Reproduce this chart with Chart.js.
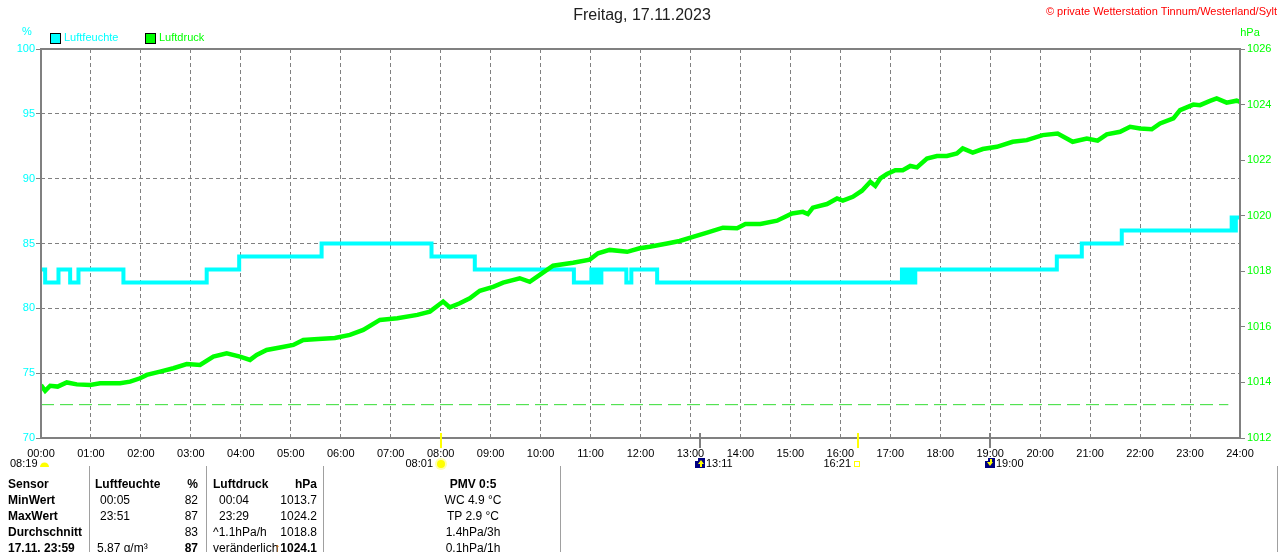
<!DOCTYPE html>
<html lang="de">
<head>
<meta charset="utf-8">
<title>Wetterstation Tinnum - Freitag, 17.11.2023</title>
<script src="https://cdn.jsdelivr.net/npm/chart.js@4.4.0/dist/chart.umd.min.js"></script>
<style>
  html, body { margin: 0; padding: 0; background: #fff; }
  #wrap { position: relative; width: 1280px; height: 552px; overflow: hidden;
          font-family: "Liberation Sans", Arial, sans-serif; }
  #chart { position: absolute; left: 0; top: 0; }
  #tabelle { position: absolute; left: 0; top: 466px; width: 1280px; height: 86px;
             font-size: 12px; color: #000; }
  .t { position: absolute; white-space: nowrap; line-height: 14px; }
  .b { font-weight: bold; }
  .r1 { right: 1082px; }
  .r2 { right: 963px; }
  .m { left: 473px; transform: translateX(-50%); }
  .vl { position: absolute; top: 0; width: 1px; height: 86px; background: #a0a0a0; }
  .pfeil { color: #c86400; font-weight: bold; }
</style>
</head>
<body>
<div id="wrap">
  <canvas id="chart" width="1280" height="552"></canvas>
  <div id="tabelle">
    <div class="vl" style="left:89px"></div>
    <div class="vl" style="left:206px"></div>
    <div class="vl" style="left:323px"></div>
    <div class="vl" style="left:560px"></div>
    <div class="vl" style="left:1277px"></div>

    <div class="t b" style="left:8px;top:11px">Sensor</div>
    <div class="t b" style="left:8px;top:27px">MinWert</div>
    <div class="t b" style="left:8px;top:43px">MaxWert</div>
    <div class="t b" style="left:8px;top:59px">Durchschnitt</div>
    <div class="t b" style="left:8px;top:75px">17.11. 23:59</div>

    <div class="t b" style="left:95px;top:11px">Luftfeuchte</div>
    <div class="t" style="left:100px;top:27px">00:05</div>
    <div class="t" style="left:100px;top:43px">23:51</div>
    <div class="t" style="left:97px;top:75px">5.87 g/m³</div>
    <div class="t b r1" style="top:11px">%</div>
    <div class="t r1" style="top:27px">82</div>
    <div class="t r1" style="top:43px">87</div>
    <div class="t r1" style="top:59px">83</div>
    <div class="t b r1" style="top:75px">87</div>

    <div class="t b" style="left:213px;top:11px">Luftdruck</div>
    <div class="t" style="left:219px;top:27px">00:04</div>
    <div class="t" style="left:219px;top:43px">23:29</div>
    <div class="t" style="left:213px;top:59px">^1.1hPa/h</div>
    <div class="t" style="left:213px;top:75px">veränderlich</div>
    <div class="t b r2" style="top:11px">hPa</div>
    <div class="t r2" style="top:27px">1013.7</div>
    <div class="t r2" style="top:43px">1024.2</div>
    <div class="t r2" style="top:59px">1018.8</div>
    <div class="t b r2" style="top:75px"><span class="pfeil">↑</span>1024.1</div>

    <div class="t b m" style="top:11px">PMV 0:5</div>
    <div class="t m" style="top:27px">WC 4.9 °C</div>
    <div class="t m" style="top:43px">TP 2.9 °C</div>
    <div class="t m" style="top:59px">1.4hPa/3h</div>
    <div class="t m" style="top:75px">0.1hPa/1h</div>
  </div>
</div>
<script>
// Zeitachse in Minuten seit Mitternacht
const stundenTicks = [0, 60, 120, 180, 240, 300, 360, 420, 480, 540, 600, 660, 720,
  780, 840, 900, 960, 1020, 1080, 1140, 1200, 1260, 1320, 1380, 1440];
const stundenLabels = ['00:00', '01:00', '02:00', '03:00', '04:00', '05:00', '06:00',
  '07:00', '08:00', '09:00', '10:00', '11:00', '12:00', '13:00', '14:00', '15:00',
  '16:00', '17:00', '18:00', '19:00', '20:00', '21:00', '22:00', '23:00', '24:00'];
const feuchteTicks = [70, 75, 80, 85, 90, 95, 100];
const druckTicks = [1012, 1014, 1016, 1018, 1020, 1022, 1024, 1026];

// Luftfeuchte (%), Wechselzeitpunkte
const feuchteZeit = [0, 5, 21, 35, 45, 99, 199, 238, 337, 469, 521, 640, 661, 663, 665,
  667, 669, 671, 673, 703, 709, 740, 1034, 1036, 1040, 1042, 1046, 1048, 1050, 1220,
  1250, 1298, 1430, 1433, 1435, 1440];
const feuchteWert = [83, 82, 83, 82, 83, 82, 83, 84, 85, 84, 83, 82, 83, 82, 83,
  82, 83, 82, 83, 82, 83, 82, 83, 82, 83, 82, 83, 82, 83, 84,
  85, 86, 87, 86, 87, 87];

// Luftdruck (hPa)
const druckZeit = [0, 5, 11, 20, 31, 43, 59, 71, 95, 107, 119, 127, 143, 159, 175, 191,
  207, 223, 239, 251, 259, 271, 287, 303, 315, 333, 353, 371, 387, 407, 428, 452, 467,
  483, 491, 503, 515, 527, 543, 555, 575, 587, 599, 615, 639, 659, 669, 683, 704, 719,
  731, 752, 767, 783, 800, 819, 836, 846, 864, 884, 902, 915, 921, 927, 944, 956, 963,
  975, 986, 996, 1002, 1008, 1016, 1026, 1035, 1044, 1052, 1064, 1076, 1088, 1100,
  1107, 1119, 1131, 1148, 1167, 1184, 1203, 1221, 1239, 1256, 1269, 1280, 1296, 1308,
  1320, 1334, 1344, 1360, 1368, 1384, 1392, 1404, 1412, 1424, 1436, 1440];
const druckWert = [1013.90, 1013.70, 1013.88, 1013.85, 1014.00, 1013.93, 1013.91,
  1013.97, 1013.97, 1014.03, 1014.15, 1014.27, 1014.39, 1014.51, 1014.66, 1014.63,
  1014.93, 1015.05, 1014.93, 1014.81, 1014.99, 1015.17, 1015.26, 1015.35, 1015.53,
  1015.56, 1015.60, 1015.71, 1015.89, 1016.25, 1016.31, 1016.43, 1016.55,
  1016.91, 1016.70, 1016.85, 1017.03, 1017.30, 1017.44, 1017.59, 1017.75, 1017.62,
  1017.87, 1018.20, 1018.31, 1018.42, 1018.65, 1018.77, 1018.70, 1018.83,
  1018.88, 1019.00, 1019.09, 1019.24, 1019.39, 1019.57, 1019.55, 1019.70, 1019.70,
  1019.82, 1020.08, 1020.14, 1020.06, 1020.29, 1020.42, 1020.62, 1020.54,
  1020.68, 1020.90, 1021.22, 1021.07, 1021.34, 1021.50, 1021.64, 1021.64, 1021.79,
  1021.74, 1022.06, 1022.15, 1022.15, 1022.24, 1022.42, 1022.27, 1022.40, 1022.48,
  1022.66, 1022.72, 1022.90, 1022.96, 1022.66, 1022.78, 1022.70, 1022.93, 1023.02,
  1023.20, 1023.14, 1023.11, 1023.32, 1023.50, 1023.80, 1024.00, 1023.98, 1024.13,
  1024.22, 1024.07, 1024.14, 1024.10];

// Referenzlinie Normaldruck
const normalZeit = [0, 1426];
const normalWert = [1013.2, 1013.2];

// Sonne / Mond
const ereignisZeit = [481, 791, 981, 1140];
const ereignisText = ['08:01', '13:11', '16:21', '19:00'];
const ereignisArt = ['sonneAuf', 'mondAuf', 'sonneUnter', 'mondUnter'];
const tageslaenge = '08:19';

const FONT = '"Liberation Sans", Arial, sans-serif';
Chart.defaults.font.family = FONT;
Chart.defaults.font.size = 11;

function punkte(zeit, wert) {
    return zeit.map((t, i) => ({ x: t, y: wert[i] }));
}

function sonne(ctx, x, y) {
    ctx.fillStyle = 'rgba(255,255,120,0.6)';
    ctx.beginPath(); ctx.arc(x, y, 6, 0, Math.PI * 2); ctx.fill();
    ctx.fillStyle = '#ffff00';
    ctx.beginPath(); ctx.arc(x, y, 4, 0, Math.PI * 2); ctx.fill();
}

function mond(ctx, x, y, hoch) {
    ctx.fillStyle = '#000080';
    ctx.fillRect(x - 5, y - 5, 10, 10);
    ctx.fillStyle = '#ffffff';
    ctx.fillRect(x - 5, y - 5, 3, 3);
    ctx.fillStyle = '#ffff00';
    ctx.beginPath();
    if (hoch) {
        ctx.moveTo(x + 1, y - 3); ctx.lineTo(x + 4, y + 1); ctx.lineTo(x - 2, y + 1);
    } else {
        ctx.moveTo(x, y + 3); ctx.lineTo(x + 3, y - 1); ctx.lineTo(x - 3, y - 1);
    }
    ctx.fill();
    ctx.fillRect(x, hoch ? y : y - 4, 2, 4);
}

const wetterPlugin = {
    id: 'wetter',
    afterDatasetsDraw(chart) {
        const { ctx, chartArea: a } = chart;
        ctx.save();
        ctx.strokeStyle = '#808080';
        ctx.lineWidth = 2;
        ctx.strokeRect(a.left, a.top, a.right - a.left, a.bottom - a.top);
        ctx.restore();
    },
    afterDraw(chart) {
        const { ctx } = chart;
        const xs = chart.scales.x;
        ctx.save();
        ctx.textBaseline = 'middle';

        // Titel
        ctx.font = '16px ' + FONT;
        ctx.fillStyle = '#202020';
        ctx.textAlign = 'center';
        ctx.fillText('Freitag, 17.11.2023', 642, 16);

        ctx.font = '11px ' + FONT;
        ctx.fillStyle = '#ff0000';
        ctx.textAlign = 'right';
        ctx.fillText('\u00a9 private Wetterstation Tinnum/Westerland/Sylt', 1277, 12);

        // Einheiten
        ctx.textAlign = 'center';
        ctx.fillStyle = '#00ffff';
        ctx.fillText('%', 27, 32);
        ctx.fillStyle = '#00ff00';
        ctx.fillText('hPa', 1250, 33);

        // Legende
        ctx.textAlign = 'left';
        ctx.lineWidth = 1;
        ctx.strokeStyle = '#000';
        ctx.fillStyle = '#00ffff';
        ctx.fillRect(50.5, 33.5, 10, 10); ctx.strokeRect(50.5, 33.5, 10, 10);
        ctx.fillText('Luftfeuchte', 64, 38);
        ctx.fillStyle = '#00ff00';
        ctx.fillRect(145.5, 33.5, 10, 10); ctx.strokeRect(145.5, 33.5, 10, 10);
        ctx.fillText('Luftdruck', 159, 38);

        // Sonne/Mond Markierungen
        ctx.fillStyle = '#000';
        ctx.fillText(tageslaenge, 10, 464);
        ctx.fillStyle = '#ffff00';
        ctx.beginPath(); ctx.arc(44.5, 467, 4.5, Math.PI, 0); ctx.fill();

        ereignisZeit.forEach((t, i) => {
            const px = Math.round(xs.getPixelForValue(t));
            const art = ereignisArt[i];
            ctx.strokeStyle = art.startsWith('sonne') ? '#ffff00' : '#808080';
            ctx.lineWidth = 2;
            ctx.beginPath(); ctx.moveTo(px, 433); ctx.lineTo(px, 448); ctx.stroke();

            ctx.fillStyle = '#000';
            if (art === 'sonneAuf') {
                ctx.textAlign = 'right';
                ctx.fillText(ereignisText[i], px - 8, 464);
                sonne(ctx, px, 464);
            } else if (art === 'sonneUnter') {
                ctx.textAlign = 'right';
                ctx.fillText(ereignisText[i], px - 7, 464);
                ctx.strokeStyle = '#ffff00';
                ctx.lineWidth = 1;
                ctx.strokeRect(px - 3.5, 461.5, 5, 5);
            } else {
                ctx.textAlign = 'left';
                ctx.fillText(ereignisText[i], px + 6, 464);
                mond(ctx, px, 463, art === 'mondAuf');
            }
        });
        ctx.restore();
    }
};

new Chart(document.getElementById('chart').getContext('2d'), {
    type: 'line',
    data: {
        datasets: [{
            label: 'Luftdruck',
            data: punkte(druckZeit, druckWert),
            yAxisID: 'y2',
            borderColor: '#00ff00',
            borderWidth: 4.5,
            pointRadius: 0,
            tension: 0
        }, {
            label: 'Luftfeuchte',
            data: punkte(feuchteZeit, feuchteWert),
            yAxisID: 'y',
            borderColor: '#00ffff',
            borderWidth: 4,
            pointRadius: 0,
            stepped: 'before'
        }, {
            label: 'Normaldruck',
            data: punkte(normalZeit, normalWert),
            yAxisID: 'y2',
            borderColor: '#33dd33',
            borderWidth: 1,
            borderDash: [13, 6],
            pointRadius: 0
        }]
    },
    options: {
        responsive: false,
        animation: false,
        devicePixelRatio: 1,
        events: [],
        layout: { padding: { top: 49, left: 0, right: 0, bottom: 0 } },
        plugins: { legend: { display: false }, tooltip: { enabled: false } },
        scales: {
            x: {
                type: 'linear',
                min: 0,
                max: 1440,
                afterBuildTicks: s => { s.ticks = stundenTicks.map(v => ({ value: v })); },
                afterFit: s => { s.height = 114; },
                grid: {
                    color: c => (c.tick && (c.tick.value === 0 || c.tick.value === 1440)) ? 'rgba(0,0,0,0)' : '#808080',
                    lineWidth: 1,
                    drawTicks: false
                },
                border: { display: false, dash: [4, 3] },
                ticks: {
                    color: '#000',
                    padding: 9,
                    maxRotation: 0,
                    autoSkip: false,
                    callback: (v, i) => stundenLabels[i]
                }
            },
            y: {
                position: 'left',
                min: 70,
                max: 100,
                afterBuildTicks: s => { s.ticks = feuchteTicks.map(v => ({ value: v })); },
                afterFit: s => { s.width = 41; },
                grid: {
                    color: c => (c.tick && (c.tick.value === 70 || c.tick.value === 100)) ? 'rgba(0,0,0,0)' : '#808080',
                    tickColor: '#808080',
                    tickLength: 5
                },
                border: { display: false, dash: [4, 3] },
                ticks: { color: '#00ffff', padding: 1, callback: v => String(v) }
            },
            y2: {
                position: 'right',
                min: 1012,
                max: 1026,
                afterBuildTicks: s => { s.ticks = druckTicks.map(v => ({ value: v })); },
                afterFit: s => { s.width = 40; },
                grid: { drawOnChartArea: false, tickColor: '#808080', tickLength: 5 },
                border: { display: false },
                ticks: { color: '#00ff00', padding: 2, callback: v => String(v) }
            }
        }
    },
    plugins: [wetterPlugin]
});
</script>
</body>
</html>
